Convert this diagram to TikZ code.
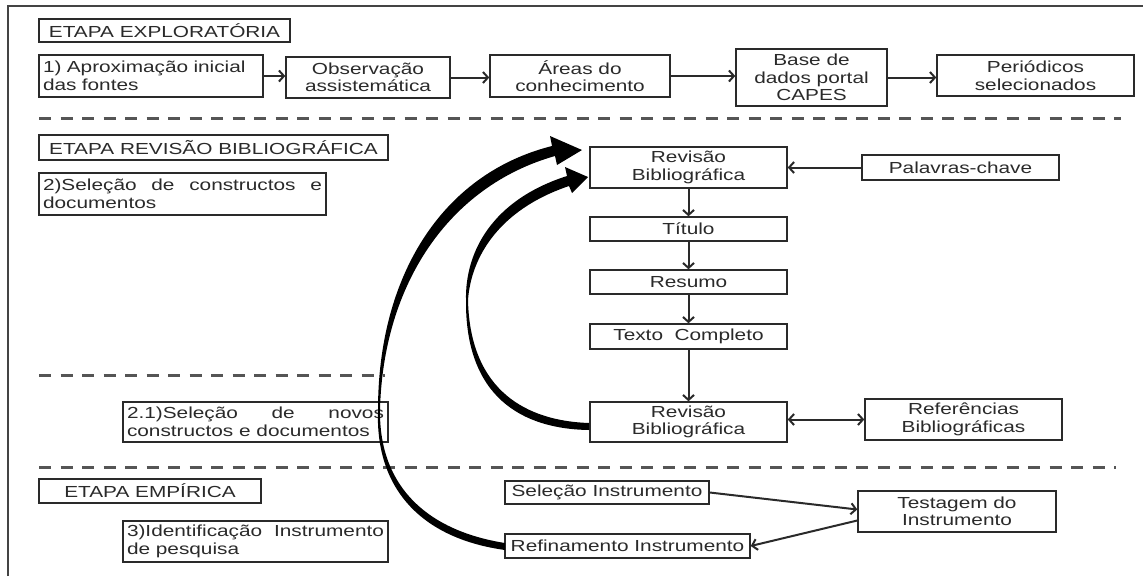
\documentclass[tikz,border=0pt]{standalone}
\usepackage{fontspec}
\setmainfont{Liberation Sans}[FakeStretch=1.3]
\usetikzlibrary{arrows.meta}
\definecolor{ink}{HTML}{2A2A2A}
\definecolor{dashc}{HTML}{555555}
\definecolor{framec}{HTML}{444444}
\tikzset{
  box/.style={draw=ink, line width=1.4pt, fill=white, inner sep=0pt, align=center,
    text=ink, font=\fontsize{16}{17.5}\selectfont},
  jbox/.style={box, inner xsep=4pt, align=justify},
  flow/.style={draw=ink, line width=2pt, -{Straight Barb[length=5pt,width=11pt]}},
  flowboth/.style={draw=ink, line width=2pt,
    {Straight Barb[length=5pt,width=11pt]}-{Straight Barb[length=5pt,width=11pt]}},
  sep/.style={draw=dashc, line width=3pt, dash pattern=on 12pt off 9.5pt},
  swoosh/.style={fill=black}
}
\begin{document}
\begin{tikzpicture}[x=1pt,y=-1pt]
\useasboundingbox (0,0) rectangle (1143,576);
\hyphenpenalty=10000
% open frame
\draw[framec, line width=2pt] (7.5,576) -- (7.5,6) -- (1143,6);

% stage 1
\node[box, minimum width=251, minimum height=23] (e1) at (164.5,30.5) {ETAPA EXPLORATÓRIA};
\node[box, minimum width=224, minimum height=42, inner xsep=4pt, text width=216, align=left] (a1) at (151,76) {1) Aproximação inicial\\das fontes};
\node[box, minimum width=164, minimum height=41] (a2) at (368,77.5) {Observação\\assistemática};
\node[box, minimum width=180, minimum height=42] (a3) at (580,76) {Áreas do\\conhecimento};
\node[box, minimum width=151, minimum height=57] (a4) at (811.5,77.5) {Base de\\dados portal\\CAPES};
\node[box, minimum width=197, minimum height=41] (a5) at (1035.5,75.5) {Periódicos\\selecionados};
\draw[flow] (a1.east) -- (a2.west |- a1.east);
\draw[flow] (a2.east) -- (a3.west |- a2.east);
\draw[flow] (a3.east) -- (a4.west |- a3.east);
\draw[flow] (a4.east) -- (a5.west |- a4.east);

\draw[sep] (39,118) -- (1121,118);

% stage 2
\node[box, minimum width=349, minimum height=25] (e2) at (213.5,147.5) {ETAPA REVISÃO BIBLIOGRÁFICA};
\node[jbox, minimum height=42, text width=279] (s2) at (182.5,194) {2)Seleção de constructos e\linebreak documentos};
\node[box, minimum width=197, minimum height=41] (r1) at (688.5,167.5) {Revisão\\Bibliográfica};
\node[box, minimum width=197, minimum height=25] (pk) at (960.5,167.5) {Palavras-chave};
\node[box, minimum width=197, minimum height=24] (ti) at (688.5,229) {Título};
\node[box, minimum width=197, minimum height=24] (rs) at (688.5,282) {Resumo};
\node[box, minimum width=197, minimum height=25] (tc) at (688.5,336.5) {Texto\ \ Completo};
\node[box, minimum width=197, minimum height=40] (r2) at (688.5,422) {Revisão\\Bibliográfica};
\node[box, minimum width=197, minimum height=41] (rf) at (963.5,419.5) {Referências\\Bibliográficas};
\draw[flow] (pk.west) -- (r1.east |- pk.west);
\draw[flow] (r1.south) -- (ti.north);
\draw[flow] (ti.south) -- (rs.north);
\draw[flow] (rs.south) -- (tc.north);
\draw[flow] (tc.south) -- (r2.north);
\draw[flowboth] (r2.east |- rf.west) -- (rf.west);

\draw[sep] (39,375) -- (385,375);
\node[jbox, minimum height=40, text width=257] (s21) at (255.5,422) {2.1)Seleção de novos\linebreak constructos e documentos};

\draw[sep] (39,467) -- (1116,467);

% stage 3
\node[box, minimum width=222, minimum height=24] (e3) at (150,491) {ETAPA EMPÍRICA};
\node[jbox, minimum height=41, text width=257] (s3) at (255.5,541.5) {3)Identificação Instrumento\linebreak de pesquisa};
\node[box, minimum width=204, minimum height=23] (si) at (607,492.5) {Seleção Instrumento};
\node[box, minimum width=198, minimum height=41] (te) at (957,511.5) {Testagem do\\Instrumento};
\node[box, minimum width=245, minimum height=24] (ri) at (627.5,546) {Refinamento Instrumento};
\draw[flow] (si.east) -- ([yshift=2pt]te.west);
\draw[flow] ([yshift=-9pt]te.west) -- (ri.east);

% feedback swooshes
\fill[swoosh] (505,550) .. controls (425,539) and (375,492) .. (378,410)
  .. controls (378,277) and (441,174) .. (552,146)
  -- (550,136) -- (582,150) -- (557,165) -- (555,156)
  .. controls (449,186) and (383,284) .. (380,410)
  .. controls (379,488) and (429,531) .. (505,543) -- cycle;
\fill[swoosh] (589,430) .. controls (522,429) and (465,397) .. (466,300)
  .. controls (465,252) and (492,200) .. (567,176)
  -- (565,167) -- (588,177) -- (572,193) -- (569,186)
  .. controls (498,210) and (471,258) .. (468,300)
  .. controls (470,392) and (528,421) .. (589,423) -- cycle;
\end{tikzpicture}
\end{document}
